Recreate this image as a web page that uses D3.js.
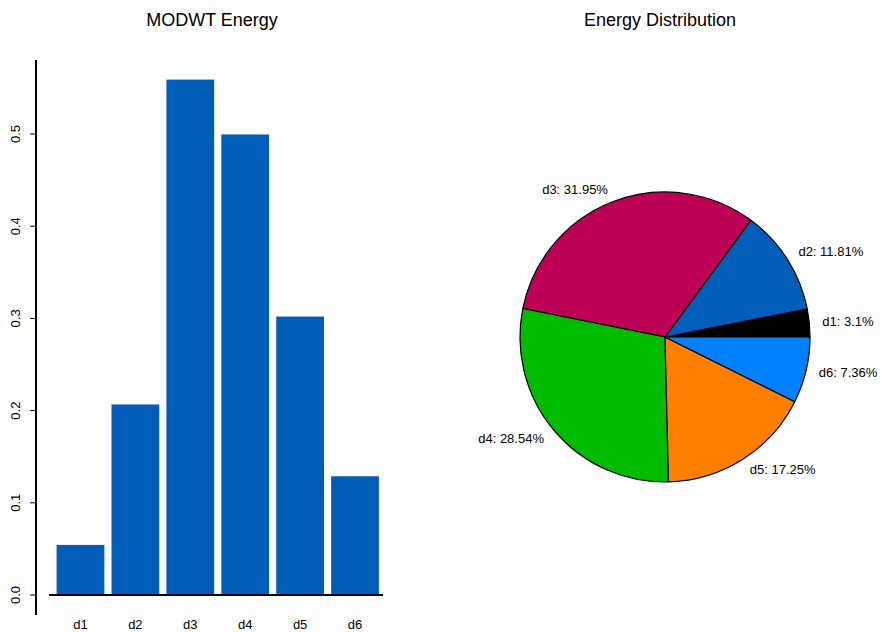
<!DOCTYPE html>
<html><head><meta charset="utf-8">
<script src="https://cdn.jsdelivr.net/npm/d3@7"></script>
<style>body{margin:0;background:#fff}text{font-family:"Liberation Sans",Arial,sans-serif}</style>
</head><body><svg id="c" width="882" height="632"></svg>
<script>
const categories = ["d1","d2","d3","d4","d5","d6"];
const energy = [0.0543,0.2067,0.559,0.4995,0.302,0.1288];
const percents = [3.1,11.81,31.95,28.54,17.25,7.36];
const colors = ["#000000","#005EB8","#BB0055","#00BB00","#FF7F00","#0080FF"];
const yTicks = [0,0.1,0.2,0.3,0.4,0.5];

const svg = d3.select("#c");
const y = d3.scaleLinear().domain([0,0.5]).range([595,134]);
const x = d3.scaleBand().domain(categories).range([55.5,380]).paddingInner(0.13).paddingOuter(0.02);

svg.append("text").attr("x",212).attr("y",26).attr("text-anchor","middle").attr("font-size",18).text("MODWT Energy");
svg.append("text").attr("x",660).attr("y",26).attr("text-anchor","middle").attr("font-size",18).text("Energy Distribution");

svg.selectAll(".bar").data(energy).join("rect")
  .attr("x",(d,i)=>x(categories[i])).attr("width",x.bandwidth())
  .attr("y",d=>y(d)).attr("height",d=>y(0)-y(d)).attr("fill","#005EB8");

svg.append("line").attr("x1",49).attr("x2",383).attr("y1",y(0)).attr("y2",y(0)).attr("stroke","#000").attr("stroke-width",2);
svg.append("line").attr("x1",36).attr("x2",36).attr("y1",60).attr("y2",615).attr("stroke","#000").attr("stroke-width",2);
yTicks.forEach(t=>{
  svg.append("line").attr("x1",30).attr("x2",36).attr("y1",y(t)).attr("y2",y(t)).attr("stroke","#000");
  svg.append("text").attr("transform",`translate(20,${y(t)}) rotate(-90)`).attr("text-anchor","middle").attr("font-size",13).text(t.toFixed(1));
});
categories.forEach(c=>{
  svg.append("text").attr("x",x(c)+x.bandwidth()/2).attr("y",629).attr("text-anchor","middle").attr("font-size",13).text(c);
});

const cx=665, cy=337, r=145;
const pie=d3.pie().sort(null).startAngle(Math.PI/2).endAngle(Math.PI/2-2*Math.PI)(energy);
const arc=d3.arc().innerRadius(0).outerRadius(r);
const g=svg.append("g").attr("transform",`translate(${cx},${cy})`);
g.selectAll("path").data(pie).join("path").attr("d",arc)
  .attr("fill",(d,i)=>colors[i]).attr("stroke","#000").attr("stroke-width",1.2);
pie.forEach((p,i)=>{
  const a=(p.startAngle+p.endAngle)/2;
  const lr=r*1.09;
  const px=Math.sin(a)*lr, py=-Math.cos(a)*lr;
  g.append("text").attr("x",px).attr("y",py+4)
   .attr("text-anchor",px>0?"start":"end").attr("font-size",13)
   .text(categories[i]+": "+percents[i]+"%");
});
</script></body></html>
